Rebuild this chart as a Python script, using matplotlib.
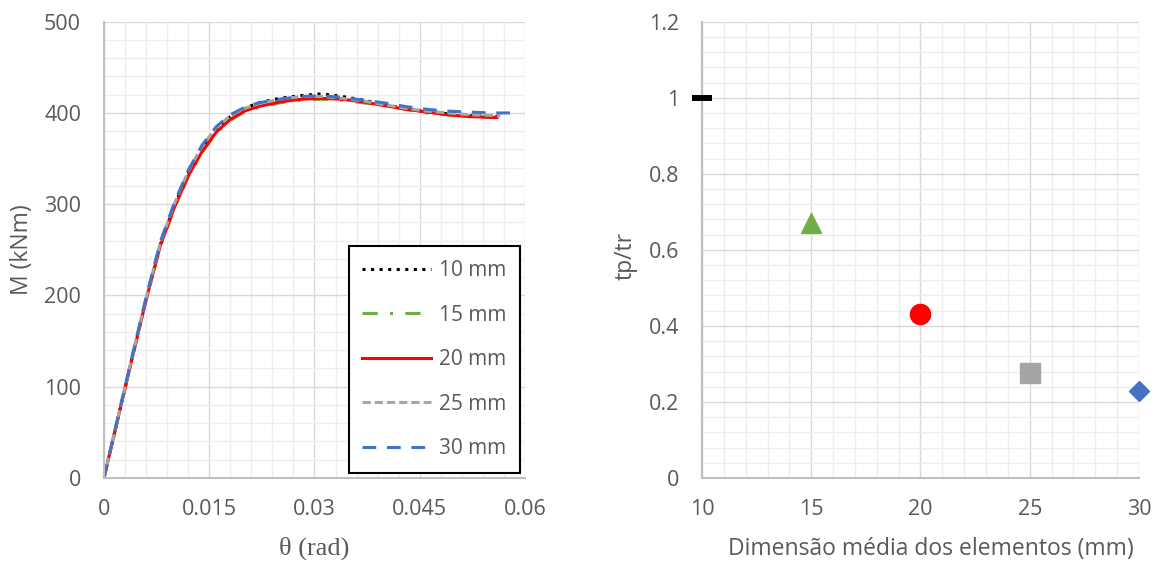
import numpy as np
import matplotlib.pyplot as plt
from matplotlib.ticker import MultipleLocator

# curves M-theta for each mesh size
theta_10 = [0, 0.002, 0.004, 0.006, 0.008, 0.010, 0.012, 0.014, 0.016, 0.018, 0.020, 0.022,
            0.025, 0.028, 0.031, 0.034, 0.037, 0.040, 0.043, 0.046, 0.049, 0.052, 0.056]
M_10 = [0, 66, 132, 196, 255, 298, 334, 362, 382, 396, 405, 411,
        416, 419, 421, 418, 414, 409, 405, 401, 399, 397, 396]

theta_15 = [0, 0.002, 0.004, 0.006, 0.008, 0.010, 0.012, 0.014, 0.016, 0.018, 0.020, 0.022,
            0.025, 0.028, 0.031, 0.034, 0.037, 0.040, 0.043, 0.046, 0.049, 0.052, 0.056]
M_15 = [0, 65, 131, 195, 253, 295, 330, 357, 378, 392, 401, 406,
        411, 414, 415, 414, 411, 408, 404, 400, 398, 396, 395]

theta_20 = [0, 0.002, 0.004, 0.006, 0.008, 0.010, 0.012, 0.014, 0.016, 0.018, 0.020, 0.022,
            0.025, 0.028, 0.031, 0.034, 0.037, 0.040, 0.043, 0.046, 0.049, 0.052, 0.056]
M_20 = [0, 66, 131, 195, 254, 296, 331, 358, 379, 393, 402, 407,
        412, 415, 416, 415, 412, 408, 404, 401, 398, 396, 395]

theta_25 = [0, 0.002, 0.004, 0.006, 0.008, 0.010, 0.012, 0.014, 0.016, 0.018, 0.020, 0.022,
            0.025, 0.028, 0.031, 0.034, 0.037, 0.040, 0.043, 0.046, 0.049, 0.052, 0.0565]
M_25 = [0, 67, 133, 197, 257, 300, 336, 364, 384, 397, 405, 410,
        415, 418, 418, 416, 413, 409, 405, 402, 400, 398, 397]

theta_30 = [0, 0.002, 0.004, 0.006, 0.008, 0.010, 0.012, 0.014, 0.016, 0.018, 0.020, 0.022,
            0.025, 0.028, 0.031, 0.034, 0.037, 0.040, 0.043, 0.046, 0.049, 0.052, 0.055, 0.058]
M_30 = [0, 67, 133, 198, 258, 301, 337, 365, 385, 398, 406, 411,
        415, 418, 419, 417, 414, 411, 407, 404, 402, 401, 400, 400]

labels = ['10 mm', '15 mm', '20 mm', '25 mm', '30 mm']

# time ratio vs element size
dim = [10, 15, 20, 25, 30]
ratio = [1.0, 0.67, 0.43, 0.275, 0.228]

txt = '#595959'
plt.rcParams['font.family'] = ['Open Sans', 'DejaVu Sans']

fig = plt.figure(figsize=(11.62, 5.65), dpi=100)
ax1 = fig.add_axes([0.0895, 0.154, 0.3623, 0.8076])
ax2 = fig.add_axes([0.6041, 0.154, 0.3761, 0.8076])

def style(ax):
    ax.grid(which='major', color='#D9D9D9', lw=1.0, zorder=0)
    ax.grid(which='minor', color='#EEEEEE', lw=1.0, zorder=0)
    ax.set_axisbelow(True)
    for s in ['top', 'right']:
        ax.spines[s].set_visible(False)
    for s in ['left', 'bottom']:
        ax.spines[s].set_color('#BFBFBF')
        ax.spines[s].set_linewidth(1.5)
    ax.tick_params(which='both', length=0, colors=txt, labelsize=15.5)
    ax.tick_params(axis='y', pad=16.5)
    ax.tick_params(axis='x', pad=15)

# left chart
lw = 2.2
ax1.plot(theta_10, M_10, color='black', lw=lw, dashes=(1, 1.8), label=labels[0])
ax1.plot(theta_15, M_15, color='#70AD47', lw=lw, dashes=(5, 4, 1, 4), label=labels[1])
ax1.plot(theta_20, M_20, color='#FF0000', lw=lw, label=labels[2])
ax1.plot(theta_25, M_25, color='#A5A5A5', lw=lw, dashes=(2.7, 1.3), label=labels[3])
ax1.plot(theta_30, M_30, color='#4472C4', lw=lw, dashes=(4.5, 3.5), label=labels[4])
ax1.set_xlim(0, 0.06)
ax1.set_ylim(0, 500)
ax1.xaxis.set_minor_locator(MultipleLocator(0.003))
ax1.yaxis.set_major_locator(MultipleLocator(100))
ax1.yaxis.set_minor_locator(MultipleLocator(20))
ax1.set_xticks([0, 0.015, 0.03, 0.045, 0.06])
ax1.set_xticklabels(['0', '0.015', '0.03', '0.045', '0.06'])
style(ax1)
ax1.set_xlabel('θ (rad)', family='Liberation Serif', fontsize=19, color=txt)
ax1.xaxis.set_label_coords(0.5, -0.155)
ax1.xaxis.label.set_va('center')
ax1.set_ylabel('M (kNm)', fontsize=16.5, color=txt)
ax1.yaxis.set_label_coords(-0.195, 0.5)
ax1.yaxis.label.set_va('center')
leg = ax1.legend(loc='lower right', bbox_to_anchor=(0.988, 0.011), frameon=True, fancybox=False,
                 edgecolor='black', framealpha=1, fontsize=15, labelspacing=1.13,
                 handlelength=3.3, handletextpad=0.37, borderpad=0.66, borderaxespad=0,
                 labelcolor=txt)
leg.get_frame().set_linewidth(1.5)

# right chart
ax2.plot(dim[0], ratio[0], marker='_', color='black', ms=14.4, mew=4.3, ls='none', clip_on=False, zorder=3)
ax2.plot(dim[1], ratio[1], marker='^', color='#70AD47', ms=14.5, ls='none', clip_on=False, zorder=3)
ax2.plot(dim[2], ratio[2], marker='o', color='#FF0000', ms=14.5, ls='none', clip_on=False, zorder=3)
ax2.plot(dim[3], ratio[3], marker='s', color='#A5A5A5', ms=14.4, ls='none', clip_on=False, zorder=3)
ax2.plot(dim[4], ratio[4], marker='D', color='#4472C4', ms=10, ls='none', clip_on=False, zorder=3)
ax2.set_xlim(10, 30)
ax2.set_ylim(0, 1.2)
ax2.xaxis.set_major_locator(MultipleLocator(5))
ax2.xaxis.set_minor_locator(MultipleLocator(1))
ax2.yaxis.set_minor_locator(MultipleLocator(0.04))
ax2.set_yticks([0, 0.2, 0.4, 0.6, 0.8, 1.0, 1.2])
ax2.set_yticklabels(['0', '0.2', '0.4', '0.6', '0.8', '1', '1.2'])
style(ax2)
ax2.set_xlabel('Dimensão média dos elementos (mm)', fontsize=16.5, color=txt)
ax2.xaxis.set_label_coords(0.524, -0.155)
ax2.xaxis.label.set_va('center')
ax2.set_ylabel('tp/tr', fontsize=16.5, color=txt)
ax2.yaxis.set_label_coords(-0.174, 0.487)
ax2.yaxis.label.set_va('center')

fig.savefig('out.png', dpi=100)
